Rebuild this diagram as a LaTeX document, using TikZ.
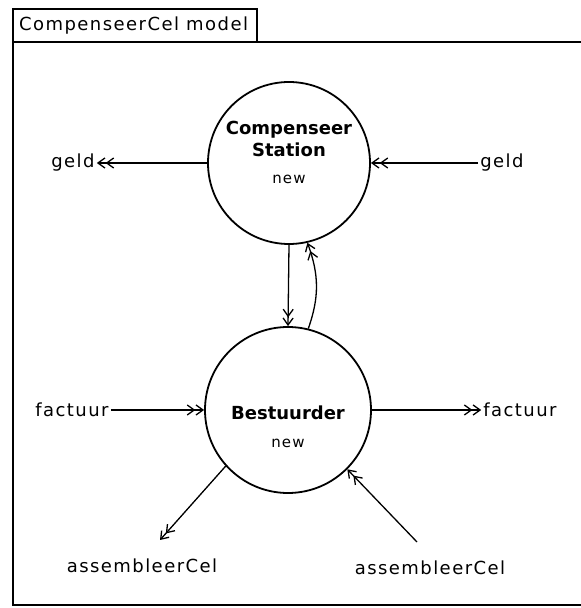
\documentclass[tikz,border=0pt]{standalone}
\usepackage{fontspec}
\setmainfont{DejaVu Sans}
\newfontfamily\geneva[LetterSpace=8]{DejaVu Sans}
\usetikzlibrary{arrows.meta,calc,bending}

\begin{document}
\begin{tikzpicture}[x=10pt,y=10pt,
  proc/.style={circle,draw,line width=1.8pt,minimum size=#1,inner sep=0pt},
  flow/.style={line width=1.3pt,-{Straight Barb[length=7pt,width=10pt]Straight Barb[length=7pt,width=10pt]}},
  port/.style={font=\geneva\fontsize{18}{20}\selectfont,inner sep=2pt},
  pname/.style={font=\bfseries\fontsize{18}{22}\selectfont,align=center,inner sep=0pt},
  ptag/.style={font=\geneva\fontsize{15}{17}\selectfont,inner sep=0pt}]

\useasboundingbox (0,0) rectangle (58.1,60.8);

% frame with its tab
\draw[line width=2.8pt] (1.3,56.6) -- (1.3,0.3) -- (58.1,0.3);
\draw[line width=2.5pt] (25.7,56.6) -- (58.1,56.6);
\draw[line width=2pt] (1.3,56.6) rectangle (25.7,59.9);
\node[port,anchor=west] (tab) at (1.7,58.2) {CompenseerCel model};

% the two processes
\node[proc=162pt] (cs) at (28.9,44.5) {};
\node[pname] (csname) at ($(cs)+(0,2.4)$) {Compenseer\\Station};
\node[ptag] (csnew) at ($(cs)+(0,-1.6)$) {new};

\node[proc=166pt] (bs) at (28.8,19.8) {};
\node[pname] (bsname) at ($(bs)+(0,-0.3)$) {Bestuurder};
\node[ptag] (bsnew) at ($(bs)+(0,-3.3)$) {new};

% ports
\node[port] (geldl) at (7.3,44.5) {geld};
\node[port] (geldr) at (50.2,44.5) {geld};
\node[port] (facl) at (7.2,19.8) {factuur};
\node[port] (facr) at (52.0,19.8) {factuur};
\node[port] (asl) at (14.2,4.2) {assembleerCel};
\node[port] (asr) at (43.0,4.0) {assembleerCel};
\coordinate (aslend) at (16.0,6.8);
\coordinate (asrstart) at (41.7,6.6);

% flows
\draw[flow] (cs.west) -- (geldl.east);
\draw[flow] (geldr.west) -- (cs.east);
\draw[flow] (facl.east) -- (bs.west);
\draw[flow] (bs.east) -- (facr.west);
\draw[flow] (cs.-90) -- (bs.90);
\draw[flow] (bs.76) to[bend right=20] (cs.-77);
\draw[flow] (bs.-138) -- (aslend);
\draw[flow] (asrstart) -- (bs.-45);

\end{tikzpicture}
\end{document}
